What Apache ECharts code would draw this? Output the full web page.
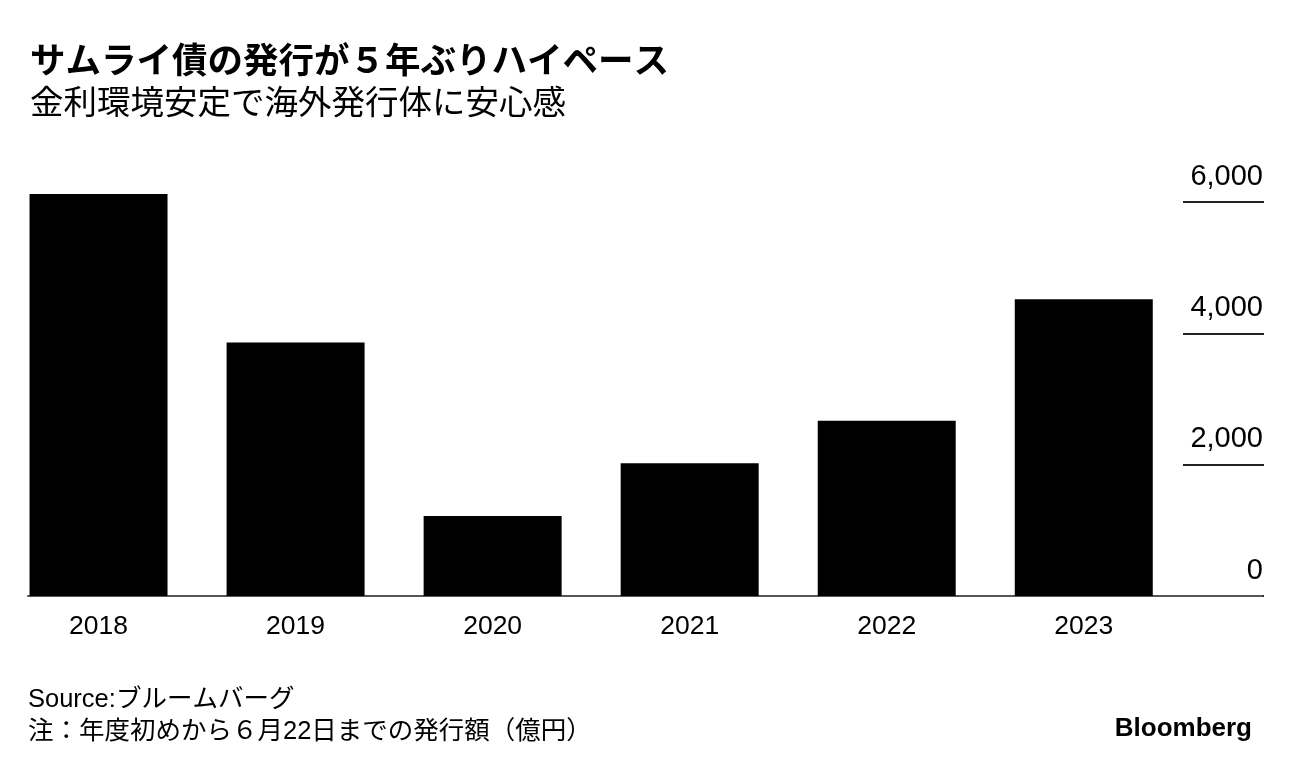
<!DOCTYPE html>
<html>
<head>
<meta charset="utf-8">
<script src="https://cdn.jsdelivr.net/npm/echarts@6/dist/echarts.min.js"></script>
<style>
  html, body { margin: 0; padding: 0; background: #fff; }
  #chart { width: 1292px; height: 772px; }
</style>
</head>
<body>
<div id="chart"></div>
<script>
const titleText = 'サムライ債の発行が５年ぶりハイペース';
const subtitleText = '金利環境安定で海外発行体に安心感';
const sourceText = 'Source:ブルームバーグ';
const noteText = '注：年度初めから６月22日までの発行額（億円）';
const brandText = 'Bloomberg';

const years = ['2018', '2019', '2020', '2021', '2022', '2023'];
const issuance = [6120, 3860, 1220, 2020, 2670, 4520];
const yMin = 0;
const yMax = 6000;
const yStep = 2000;

const CJK = "'Noto Sans CJK JP', sans-serif";
const MIX = "'Liberation Sans', 'Noto Sans CJK JP', sans-serif";

const chart = echarts.init(document.getElementById('chart'), null, { renderer: 'canvas' });

const gridTop = 202;
const gridBottom = 176;

chart.setOption({
  animation: false,
  backgroundColor: '#ffffff',
  title: [
    { text: titleText, left: 30, top: 42, padding: 0,
      textStyle: { fontFamily: CJK, fontSize: 35.5, fontWeight: 'bold', color: '#000', lineHeight: 36 } },
    { text: subtitleText, left: 30, top: 84, padding: 0,
      textStyle: { fontFamily: CJK, fontSize: 33.5, fontWeight: 'normal', color: '#000', lineHeight: 34 } },
    { text: sourceText, left: 28, top: 687, padding: 0,
      textStyle: { fontFamily: MIX, fontSize: 25.5, fontWeight: 'normal', color: '#000', lineHeight: 26 } },
    { text: noteText, left: 28, top: 719, padding: 0,
      textStyle: { fontFamily: MIX, fontSize: 25.5, fontWeight: 'normal', color: '#000', lineHeight: 26 } },
    { text: brandText, right: 40, top: 715, padding: 0,
      textStyle: { fontFamily: "'Liberation Sans', sans-serif", fontSize: 26, fontWeight: 'bold', color: '#000', lineHeight: 27 } }
  ],
  grid: [
    { left: -1.7, width: 1184, top: gridTop, bottom: gridBottom },
    { left: 28, right: 30, top: gridTop, bottom: gridBottom },
    { left: 1183, right: 28, top: gridTop, bottom: gridBottom }
  ],
  xAxis: [
    { gridIndex: 0, type: 'category', data: years, boundaryGap: true,
      axisLine: { show: false }, axisTick: { show: false },
      axisLabel: { margin: 17, fontFamily: "'Liberation Sans', sans-serif", fontSize: 26.5, color: '#000' } },
    { gridIndex: 1, type: 'value', min: 0, max: 1,
      axisLine: { show: true, onZero: false, lineStyle: { color: '#555', width: 2 } },
      axisTick: { show: false }, axisLabel: { show: false }, splitLine: { show: false } },
    { gridIndex: 2, type: 'value', min: 0, max: 1, show: false }
  ],
  yAxis: [
    { gridIndex: 0, type: 'value', min: yMin, max: yMax, interval: yStep, show: false },
    { gridIndex: 1, type: 'value', min: yMin, max: yMax, interval: yStep, show: false },
    { gridIndex: 2, type: 'value', min: yMin, max: yMax, interval: yStep, position: 'right',
      axisLine: { show: false }, axisTick: { show: false },
      splitLine: { show: true, lineStyle: { color: '#222', width: 2 } },
      axisLabel: {
        inside: true, margin: 1, align: 'right', verticalAlign: 'middle',
        formatter: v => '{v|' + v.toLocaleString('en-US') + '}\n{s|}',
        rich: {
          v: { fontFamily: "'Liberation Sans', sans-serif", fontSize: 29, color: '#000', lineHeight: 29 },
          s: { lineHeight: 51, fontSize: 10 }
        }
      } }
  ],
  series: [
    { type: 'bar', xAxisIndex: 0, yAxisIndex: 0, data: issuance, barWidth: 138,
      clip: false, itemStyle: { color: '#000' }, z: 1 }
  ]
});
</script>
</body>
</html>
